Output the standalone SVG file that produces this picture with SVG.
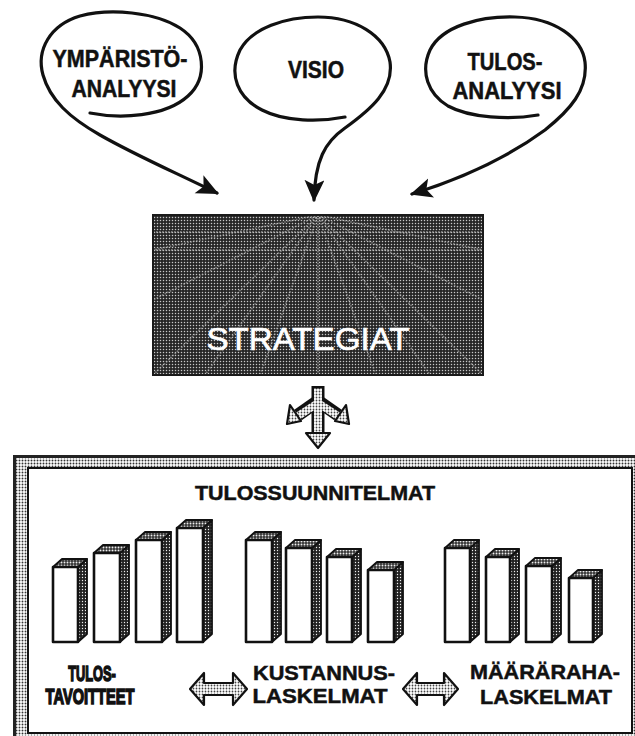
<svg xmlns="http://www.w3.org/2000/svg" width="635" height="736" viewBox="0 0 635 736">
  <defs>
    <style>
      .lbl { font-family: "Liberation Sans", Arial, sans-serif; font-weight: bold; fill: #111; stroke: #111; stroke-width: 0.5; text-anchor: middle; }
      .narrow { stroke-width: 1.6; }
      .curve { fill: none; stroke: #111; stroke-width: 3.2; stroke-linecap: round; marker-end: url(#head); }
      .front { fill: #fff; stroke: #111; stroke-width: 2.6; stroke-linejoin: round; }
      .side { fill: url(#darkDots); stroke: #111; stroke-width: 1.8; stroke-linejoin: round; }
      .top { fill: url(#midDots); stroke: #111; stroke-width: 1.8; stroke-linejoin: round; }
      .dbl { fill: url(#lightDots); stroke: #111; stroke-width: 2.2; stroke-linejoin: round; }
      .ray { stroke: #b0b0b0; stroke-width: 1.8; stroke-dasharray: 1.5 1.5; opacity: 0.6; }
    </style>
    <marker id="head" markerUnits="userSpaceOnUse" markerWidth="26" markerHeight="22" refX="20" refY="10" orient="auto">
      <path d="M0,0 L22,10 L0,20 L5,10 Z" fill="#111"/>
    </marker>
    <pattern id="boxDots" width="3" height="3" patternUnits="userSpaceOnUse">
      <rect width="3" height="3" fill="#262626"/>
      <circle cx="1.5" cy="1.5" r="0.75" fill="#c8c8c8"/>
    </pattern>
    <pattern id="frameDots" width="3" height="3" patternUnits="userSpaceOnUse">
      <rect width="3" height="3" fill="#fff"/>
      <circle cx="1.5" cy="1.5" r="0.95" fill="#333"/>
    </pattern>
    <pattern id="darkDots" width="3" height="3" patternUnits="userSpaceOnUse">
      <rect width="3" height="3" fill="#222"/>
      <circle cx="1.5" cy="1.5" r="0.7" fill="#eee"/>
    </pattern>
    <pattern id="midDots" width="3" height="3" patternUnits="userSpaceOnUse">
      <rect width="3" height="3" fill="#333"/>
      <circle cx="1.5" cy="1.5" r="0.95" fill="#eee"/>
    </pattern>
    <pattern id="lightDots" width="3" height="3" patternUnits="userSpaceOnUse">
      <rect width="3" height="3" fill="#fff"/>
      <circle cx="1.5" cy="1.5" r="0.9" fill="#444"/>
    </pattern>
    <clipPath id="boxClip">
      <rect x="153" y="215" width="330" height="160"/>
    </clipPath>
  </defs>

  <rect width="635" height="736" fill="#fff"/>

  <!-- input bubbles -->
  <g id="ymparisto">
    <text class="lbl" x="120" y="67" font-size="23" textLength="135" lengthAdjust="spacingAndGlyphs">YMPÄRISTÖ-</text>
    <text class="lbl" x="124" y="97" font-size="23" textLength="105" lengthAdjust="spacingAndGlyphs">ANALYYSI</text>
  </g>
  <g id="visio">
    <text class="lbl" x="316" y="78" font-size="23" textLength="56" lengthAdjust="spacingAndGlyphs">VISIO</text>
  </g>
  <g id="tulosanalyysi">
    <text class="lbl" x="505" y="70" font-size="23" textLength="75" lengthAdjust="spacingAndGlyphs">TULOS-</text>
    <text class="lbl" x="507" y="99" font-size="23" textLength="109" lengthAdjust="spacingAndGlyphs">ANALYYSI</text>
  </g>

  <!-- bubble outlines that run on into arrows -->
  <g id="connectors">
    <path class="curve" d="M90,113 C120,119 165,117 188,96 C208,78 206,45 180,28 C155,12 110,8 80,16 C50,25 36,50 43,75 C50,100 70,118 100,135 C135,155 170,170 217,193"/>
    <path class="curve" d="M345,117 C320,122 285,122 262,110 C238,98 228,75 240,50 C252,28 285,17 318,17 C355,17 385,35 390,62 C394,90 370,110 345,128 C325,142 315,160 314,200"/>
    <path class="curve" d="M538,115 C510,120 470,118 448,106 C428,94 420,72 430,50 C442,26 480,16 515,17 C555,18 582,38 585,62 C588,90 570,110 545,130 C515,152 470,176 412,194"/>
  </g>

  <!-- strategy block -->
  <g id="strategiat">
    <rect x="153" y="215" width="330" height="160" fill="url(#boxDots)"/>
    <g clip-path="url(#boxClip)">
      <line class="ray" x1="318" y1="215" x2="153" y2="250"/>
      <line class="ray" x1="318" y1="215" x2="153" y2="300"/>
      <line class="ray" x1="318" y1="215" x2="153" y2="375"/>
      <line class="ray" x1="318" y1="215" x2="205" y2="375"/>
      <line class="ray" x1="318" y1="215" x2="260" y2="375"/>
      <line class="ray" x1="318" y1="215" x2="318" y2="375"/>
      <line class="ray" x1="318" y1="215" x2="376" y2="375"/>
      <line class="ray" x1="318" y1="215" x2="430" y2="375"/>
      <line class="ray" x1="318" y1="215" x2="483" y2="375"/>
      <line class="ray" x1="318" y1="215" x2="483" y2="300"/>
      <line class="ray" x1="318" y1="215" x2="483" y2="250"/>
      <line class="ray" x1="153" y1="232" x2="483" y2="232"/>
      <line class="ray" x1="153" y1="250" x2="483" y2="250"/>
    </g>
    <rect x="153" y="215" width="330" height="160" fill="none" stroke="#1a1a1a" stroke-width="2"/>
    <text x="308" y="350" font-family="Liberation Sans, Arial, sans-serif" font-size="31" fill="#fff" stroke="#fff" stroke-width="0.6" text-anchor="middle" textLength="203" lengthAdjust="spacingAndGlyphs">STRATEGIAT</text>
  </g>

  <!-- three-way arrow -->
  <g id="branch">
    <g stroke="#111" stroke-width="13" stroke-linecap="butt" fill="none">
      <path d="M318,386 L318,436"/>
      <path d="M318,401 L298,415"/>
      <path d="M318,401 L338,415"/>
    </g>
    <g stroke="url(#lightDots)" stroke-width="8" stroke-linecap="butt" fill="none">
      <path d="M318,388.5 L318,436"/>
      <path d="M318,403 L298,416"/>
      <path d="M318,403 L338,416"/>
    </g>
    <polygon class="dbl" points="306,433 330,433 318,448"/>
    <polygon class="dbl" points="290,405 301,421 287,424"/>
    <polygon class="dbl" points="346,405 335,421 349,424"/>
  </g>

  <!-- plans frame -->
  <g id="tulossuunnitelmat">
    <rect x="13" y="455" width="630" height="290" fill="url(#frameDots)"/>
    <rect x="14.5" y="456.5" width="630" height="290" fill="none" stroke="#222" stroke-width="3"/>
    <rect x="28" y="468" width="604" height="265" fill="#fff" stroke="#111" stroke-width="2"/>
    <text class="lbl" x="315" y="500" font-size="21" textLength="240" lengthAdjust="spacingAndGlyphs">TULOSSUUNNITELMAT</text>
  </g>

  <!-- bar groups: front face, side face, top face -->
  <g id="bars-tulostavoitteet">
    <polygon class="side" points="78,567 87,559 87,634 78,642"/><polygon class="top" points="53,567 62,559 87,559 78,567"/><rect class="front" x="53" y="567" width="25" height="75"/>
    <polygon class="side" points="120,553 129,545 129,634 120,642"/><polygon class="top" points="94,553 103,545 129,545 120,553"/><rect class="front" x="94" y="553" width="26" height="89"/>
    <polygon class="side" points="162,540 171,532 171,634 162,642"/><polygon class="top" points="136,540 145,532 171,532 162,540"/><rect class="front" x="136" y="540" width="26" height="102"/>
    <polygon class="side" points="203,528 212,520 212,634 203,642"/><polygon class="top" points="177,528 186,520 212,520 203,528"/><rect class="front" x="177" y="528" width="26" height="114"/>
  </g>
  <g id="bars-kustannuslaskelmat">
    <polygon class="side" points="272,540 281,532 281,634 272,642"/><polygon class="top" points="246,540 255,532 281,532 272,540"/><rect class="front" x="246" y="540" width="26" height="102"/>
    <polygon class="side" points="312,548 321,540 321,634 312,642"/><polygon class="top" points="286,548 295,540 321,540 312,548"/><rect class="front" x="286" y="548" width="26" height="94"/>
    <polygon class="side" points="352,557 361,549 361,634 352,642"/><polygon class="top" points="327,557 336,549 361,549 352,557"/><rect class="front" x="327" y="557" width="25" height="85"/>
    <polygon class="side" points="394,570 403,562 403,634 394,642"/><polygon class="top" points="368,570 377,562 403,562 394,570"/><rect class="front" x="368" y="570" width="26" height="72"/>
  </g>
  <g id="bars-maararahalaskelmat">
    <polygon class="side" points="470,548 479,540 479,634 470,642"/><polygon class="top" points="445,548 454,540 479,540 470,548"/><rect class="front" x="445" y="548" width="25" height="94"/>
    <polygon class="side" points="510,557 519,549 519,634 510,642"/><polygon class="top" points="486,557 495,549 519,549 510,557"/><rect class="front" x="486" y="557" width="24" height="85"/>
    <polygon class="side" points="552,566 561,558 561,634 552,642"/><polygon class="top" points="526,566 535,558 561,558 552,566"/><rect class="front" x="526" y="566" width="26" height="76"/>
    <polygon class="side" points="593,578 602,570 602,634 593,642"/><polygon class="top" points="569,578 578,570 602,570 593,578"/><rect class="front" x="569" y="578" width="24" height="64"/>
  </g>

  <!-- condensed labels are scaled horizontally about their centres -->
  <g id="label-tulostavoitteet">
    <text class="lbl narrow" transform="translate(92,681) scale(0.57,1)" font-size="22.5">TULOS-</text>
    <text class="lbl narrow" transform="translate(90,704) scale(0.65,1)" font-size="22.5">TAVOITTEET</text>
  </g>
  <g id="label-kustannuslaskelmat">
    <text class="lbl" x="324" y="680" font-size="21" textLength="142" lengthAdjust="spacingAndGlyphs">KUSTANNUS-</text>
    <text class="lbl" x="320" y="703" font-size="21" textLength="135" lengthAdjust="spacingAndGlyphs">LASKELMAT</text>
  </g>
  <g id="label-maararahalaskelmat">
    <text class="lbl" x="545" y="679" font-size="21" textLength="150" lengthAdjust="spacingAndGlyphs">MÄÄRÄRAHA-</text>
    <text class="lbl" x="546" y="704" font-size="21" textLength="132" lengthAdjust="spacingAndGlyphs">LASKELMAT</text>
  </g>

  <!-- two-way links between plan groups -->
  <g id="links">
    <polygon class="dbl" points="190,689 204,673 204,683 233,683 233,673 247,689 233,705 233,695 204,695 204,705"/>
    <polygon class="dbl" points="403,689 417,673 417,683 444,683 444,673 458,689 444,705 444,695 417,695 417,705"/>
  </g>
</svg>
